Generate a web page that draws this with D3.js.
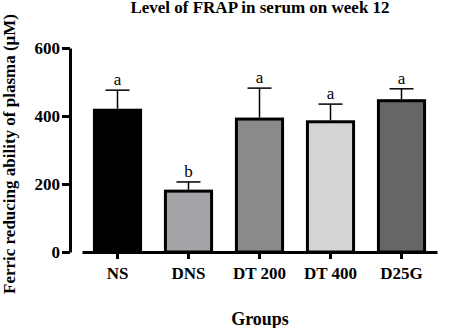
<!DOCTYPE html>
<html>
<head>
<meta charset="utf-8">
<script src="https://cdn.jsdelivr.net/npm/d3@7"></script>
<style>
  body { margin: 0; background: #fff; }
  svg { display: block; }
  svg text { font-family: "Liberation Serif", "Times New Roman", serif; }
</style>
</head>
<body>
<svg id="chart"></svg>
<script>
// data
const groups = ['NS', 'DNS', 'DT 200', 'DT 400', 'D25G']
const means = [417, 179, 391, 383, 445]
const errors = [59, 27, 91, 52, 35]
const letters = ['a', 'b', 'a', 'a', 'a']
const fills = ['#000000', '#a3a3a8', '#8a8a8a', '#d4d4d4', '#666666']
const yTicks = [0, 200, 400, 600]

const size = {width: 450, height: 328}
const margin = {top: 48, right: 2, bottom: 76, left: 70}
const innerWidth = size.width - margin.left - margin.right
const innerHeight = size.height - margin.top - margin.bottom

const svg = d3.select('#chart')
    .attr('width', size.width)
    .attr('height', size.height)

const g = svg.append('g')
    .attr('transform', `translate(${margin.left}, ${margin.top})`)

const xScale = d3.scaleBand()
    .domain(groups)
    .range([12, 12 + 71 * 5])
    .paddingInner(0.35)
    .paddingOuter(0.175)

const yScale = d3.scaleLinear()
    .domain([0, 600])
    .range([innerHeight, 0])

// bars
g.selectAll('rect.bar')
    .data(groups)
    .join('rect')
    .attr('class', 'bar')
    .attr('x', d => xScale(d))
    .attr('y', (d, i) => yScale(means[i]))
    .attr('width', xScale.bandwidth())
    .attr('height', (d, i) => innerHeight - yScale(means[i]))
    .attr('fill', (d, i) => fills[i])
    .attr('stroke', '#000')
    .attr('stroke-width', 3)

// error bars (upper only)
const cx = d => xScale(d) + xScale.bandwidth() / 2
g.selectAll('line.err')
    .data(groups)
    .join('line')
    .attr('class', 'err')
    .attr('x1', cx).attr('x2', cx)
    .attr('y1', (d, i) => yScale(means[i]) - 1.5)
    .attr('y2', (d, i) => yScale(means[i] + errors[i]))
    .attr('stroke', '#000')
    .attr('stroke-width', 1.5)
g.selectAll('line.cap')
    .data(groups)
    .join('line')
    .attr('class', 'cap')
    .attr('x1', d => cx(d) - 12).attr('x2', d => cx(d) + 12)
    .attr('y1', (d, i) => yScale(means[i] + errors[i]))
    .attr('y2', (d, i) => yScale(means[i] + errors[i]))
    .attr('stroke', '#000')
    .attr('stroke-width', 1.5)

// significance letters
g.selectAll('text.sig')
    .data(groups)
    .join('text')
    .attr('class', 'sig')
    .attr('x', cx)
    .attr('y', (d, i) => yScale(means[i] + errors[i]) - 5)
    .attr('text-anchor', 'middle')
    .attr('font-size', 17)
    .text((d, i) => letters[i])

// axes
const xAxis = d3.axisBottom(xScale).tickSize(7).tickSizeOuter(0).tickPadding(8)
const yAxis = d3.axisLeft(yScale).tickValues(yTicks).tickSize(8).tickSizeOuter(0).tickPadding(2)

const xAxisG = g.append('g')
    .attr('transform', `translate(0, ${innerHeight})`)
    .call(xAxis)
const yAxisG = g.append('g').call(yAxis)

;[xAxisG, yAxisG].forEach(a => {
    a.select('.domain').attr('stroke-width', 3)
    a.selectAll('.tick line').attr('stroke-width', 3)
    a.selectAll('.tick text')
        .attr('font-size', 17)
        .attr('font-weight', 'bold')
        .attr('font-family', '"Liberation Serif", serif')
        .attr('fill', '#000')
})

// titles
svg.append('text')
    .attr('x', 260).attr('y', 13)
    .attr('text-anchor', 'middle')
    .attr('font-size', 17)
    .attr('font-weight', 'bold')
    .text('Level of FRAP in serum on week 12')

svg.append('text')
    .attr('x', 260).attr('y', 325)
    .attr('text-anchor', 'middle')
    .attr('font-size', 18)
    .attr('font-weight', 'bold')
    .text('Groups')

svg.append('text')
    .attr('transform', 'translate(15, 154) rotate(-90)')
    .attr('text-anchor', 'middle')
    .attr('font-size', 17)
    .attr('font-weight', 'bold')
    .text('Ferric reducing ability of plasma (μM)')
</script>
</body>
</html>
